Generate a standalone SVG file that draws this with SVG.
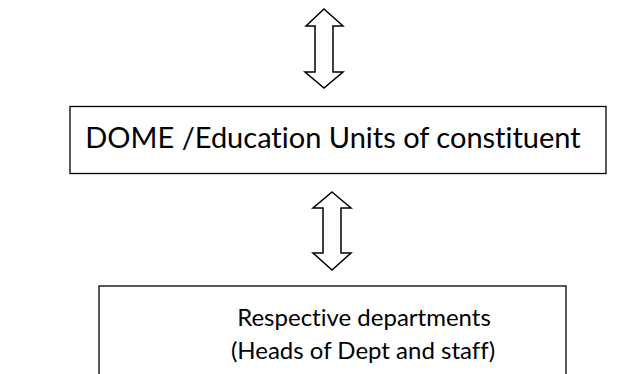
<svg xmlns="http://www.w3.org/2000/svg" width="642" height="374" viewBox="0 0 642 374">
<style>
.box{fill:#fff;stroke:#000;stroke-width:1.3}
.arr{fill:#fff;stroke:#000;stroke-width:1.5;stroke-linejoin:miter}
.t{font-family:Lato,"Open Sans",sans-serif;fill:#000;text-anchor:middle;font-variant-ligatures:none}
.t1{font-size:29px}
.t2{font-size:24px}
</style>
<rect width="642" height="374" fill="#fff"/>
<g id="connectors">
<path class="arr" d="M324,9 L343,26 L333,26 L333,72 L343,72 L324,88 L305,72 L315,72 L315,26 L306,26 Z"/>
<path class="arr" d="M332,192 L351,208 L341,208 L341,253 L351,253 L332,270 L313,253 L323,253 L323,208 L313,208 Z"/>
</g>
<g id="dome">
<rect class="box" x="70" y="106.5" width="536" height="67"/>
<text class="t t1" x="333" y="148">DOME /Education Units of constituent</text>
</g>
<g id="departments">
<rect class="box" x="99" y="286" width="467" height="100"/>
<text class="t t2" x="364" y="326">Respective departments</text>
<text class="t t2" x="363" y="359">(Heads of Dept and staff)</text>
</g>
</svg>
